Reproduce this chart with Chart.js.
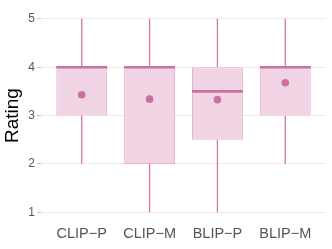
<!DOCTYPE html>
<html>
<head>
<meta charset="utf-8">
<script src="https://cdn.jsdelivr.net/npm/chart.js@4.4.0/dist/chart.umd.min.js"></script>
<style>
  html, body { margin: 0; padding: 0; background: #ffffff; }
  #wrap { width: 332px; height: 249px; }
</style>
</head>
<body>
<div id="wrap"><canvas id="c" width="332" height="249"></canvas></div>
<script>
const categories = ["CLIP\u2212P", "CLIP\u2212M", "BLIP\u2212P", "BLIP\u2212M"];
const whiskerLow = [2, 1, 1, 2];
const q1 = [3, 2, 2.5, 3];
const median = [4, 4, 3.5, 4];
const q3 = [4, 4, 4, 4];
const whiskerHigh = [5, 5, 5, 5];
const means = [3.43, 3.34, 3.33, 3.68];
const yTicks = [1, 2, 3, 4, 5];

const BOX_HALF = 0.375;
const boxData = categories.map((c, i) => ({ x: i + 1, y: [q1[i], q3[i]] }));
const whiskerData = [];
categories.forEach((c, i) => {
  whiskerData.push({ x: i + 1, y: whiskerLow[i] }, { x: i + 1, y: q1[i] }, { x: i + 1, y: null });
  whiskerData.push({ x: i + 1, y: q3[i] }, { x: i + 1, y: whiskerHigh[i] }, { x: i + 1, y: null });
});
const medianData = [];
categories.forEach((c, i) => {
  medianData.push({ x: i + 1 - BOX_HALF, y: median[i] }, { x: i + 1 + BOX_HALF, y: median[i] }, { x: i + 1, y: null });
});
const meanData = categories.map((c, i) => ({ x: i + 1, y: means[i] }));

new Chart(document.getElementById('c'), {
  data: {
    datasets: [
      {
        type: 'bar', data: boxData, order: 4,
        backgroundColor: '#F0D4E3', borderColor: '#E7B3CF', borderWidth: 1,
        borderSkipped: false, barPercentage: 0.75, categoryPercentage: 1.0, grouped: false
      },
      {
        type: 'line', data: whiskerData, order: 3, spanGaps: false,
        borderColor: '#D873AC', borderWidth: 1.3, pointRadius: 0, fill: false
      },
      {
        type: 'line', data: medianData, order: 2, spanGaps: false,
        borderColor: '#CC6FA2', borderWidth: 2.6, pointRadius: 0, fill: false, borderCapStyle: 'butt'
      },
      {
        type: 'scatter', data: meanData, order: 1,
        backgroundColor: '#CC6FA2', borderColor: '#CC6FA2', pointRadius: 3.8, borderWidth: 0
      }
    ]
  },
  options: {
    responsive: false,
    animation: false,
    devicePixelRatio: 1,
    layout: { padding: { left: 0, right: 6, top: 6, bottom: 0 } },
    plugins: { legend: { display: false }, tooltip: { enabled: false } },
    scales: {
      x: {
        type: 'linear', min: 0.4, max: 4.6, offset: false,
        afterBuildTicks: (s) => { s.ticks = categories.map((c, i) => ({ value: i + 1 })); },
        afterFit: (s) => { s.height = 27; },
        grid: { display: false, drawTicks: false, offset: false },
        border: { display: false },
        ticks: {
          padding: 3, color: '#555555', maxRotation: 0, autoSkip: false,
          font: { family: 'Liberation Sans', size: 14.5 },
          callback: (v) => categories[Math.round(v) - 1]
        }
      },
      y: {
        type: 'linear', min: 0.8, max: 5.2,
        afterBuildTicks: (s) => { s.ticks = yTicks.map(v => ({ value: v })); },
        afterFit: (s) => { s.width = 41; },
        grid: { color: '#EBEBEB', lineWidth: 1, tickLength: 4, tickColor: '#C8C8C8' },
        border: { display: false },
        ticks: {
          padding: 2, color: '#555555', autoSkip: false,
          font: { family: 'Liberation Sans', size: 12 },
          callback: (v) => String(v)
        },
        title: {
          display: true, text: 'Rating', color: '#000000',
          font: { family: 'Liberation Sans', size: 19 },
          padding: { top: 1, bottom: 0 }
        }
      }
    }
  }
});
</script>
</body>
</html>
